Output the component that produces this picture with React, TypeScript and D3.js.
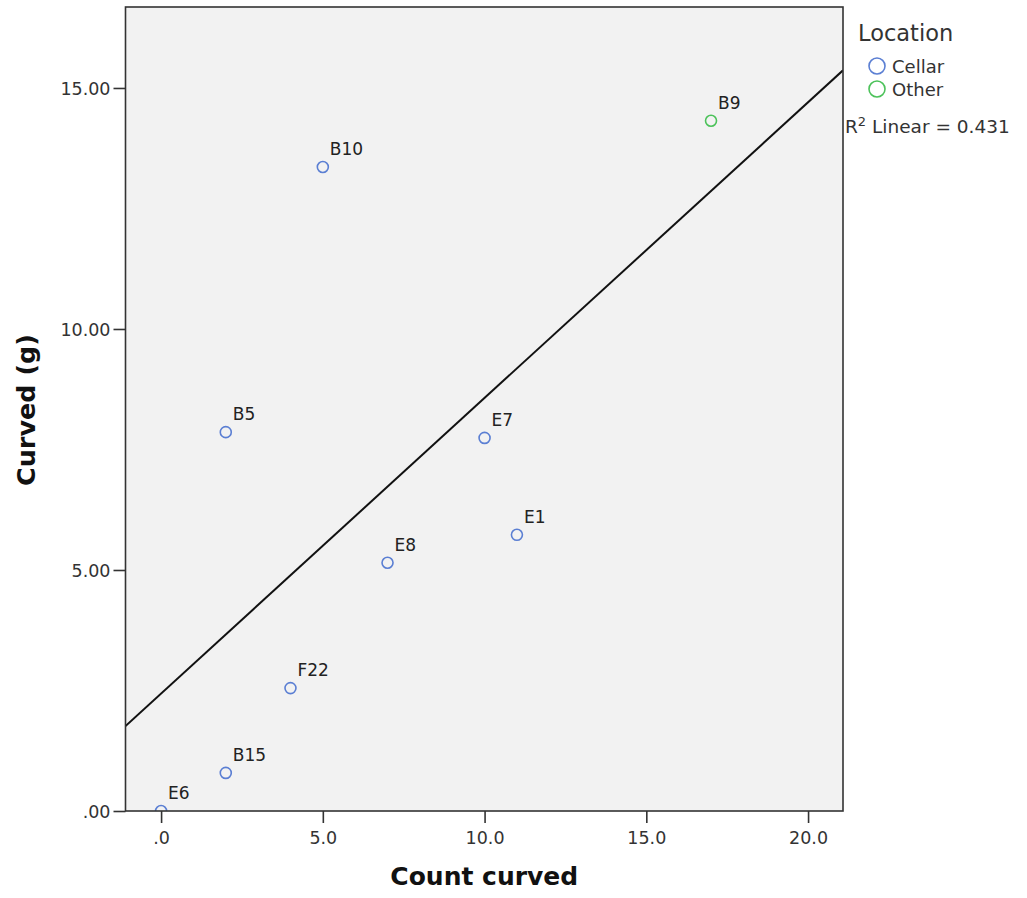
import React, { useEffect, useRef } from 'react';
import * as d3 from 'd3';

const labels = ['E6', 'B15', 'F22', 'E8', 'B5', 'E7', 'E1', 'B10', 'B9'];
const counts = [0, 2, 4, 7, 2, 10, 11, 5, 17];
const grams = [0, 0.79, 2.55, 5.15, 7.86, 7.74, 5.73, 13.36, 14.32];
const locations = ['Cellar', 'Cellar', 'Cellar', 'Cellar', 'Cellar', 'Cellar', 'Cellar', 'Cellar', 'Other'];
const xTicks = [0, 5, 10, 15, 20];
const yTicks = [0, 5, 10, 15];
const legendItems = ['Cellar', 'Other'];
const rSquared = '0.431';

const colors: Record<string, string> = { Cellar: '#5b7fd3', Other: '#4cc25a' };
const font = 'DejaVu Sans, sans-serif';

export default function App() {
  const ref = useRef<SVGSVGElement>(null);

  useEffect(() => {
    const svg = d3.select(ref.current);
    svg.selectAll('*').remove();

    const left = 125.5, right = 843, top = 7, bottom = 811;
    const x = d3.scaleLinear().domain([-1.1, 21.08]).range([left, right]);
    const y = d3.scaleLinear().domain([0, 16.68]).range([bottom, top]);

    const data = labels.map((name, i) => ({ name, cx: counts[i], cy: grams[i], loc: locations[i] }));

    svg.append('defs').append('clipPath').attr('id', 'plotclip')
      .append('rect').attr('x', left).attr('y', top).attr('width', right - left).attr('height', bottom - top);

    svg.append('rect')
      .attr('x', left).attr('y', top).attr('width', right - left).attr('height', bottom - top)
      .attr('fill', '#f2f2f2');

    // least squares fit line
    const mx = d3.mean(counts)!;
    const my = d3.mean(grams)!;
    const sxy = d3.sum(counts, (v, i) => (v - mx) * (grams[i] - my));
    const sxx = d3.sum(counts, (v) => (v - mx) * (v - mx));
    const slope = sxy / sxx;
    const icpt = my - slope * mx;
    const [x0, x1] = x.domain();
    svg.append('line')
      .attr('clip-path', 'url(#plotclip)')
      .attr('x1', x(x0)).attr('y1', y(icpt + slope * x0))
      .attr('x2', x(x1)).attr('y2', y(icpt + slope * x1))
      .attr('stroke', '#111').attr('stroke-width', 2);

    const pts = svg.append('g').attr('clip-path', 'url(#plotclip)');
    pts.selectAll('circle').data(data).enter().append('circle')
      .attr('cx', (d) => x(d.cx)).attr('cy', (d) => y(d.cy)).attr('r', 5.5)
      .attr('fill', 'none').attr('stroke', (d) => colors[d.loc]).attr('stroke-width', 1.6);
    pts.selectAll('text').data(data).enter().append('text')
      .attr('x', (d) => x(d.cx) + 7).attr('y', (d) => y(d.cy) - 12)
      .attr('font-family', font).attr('font-size', 17).attr('fill', '#222')
      .text((d) => d.name);

    svg.append('rect')
      .attr('x', left).attr('y', top).attr('width', right - left).attr('height', bottom - top)
      .attr('fill', 'none').attr('stroke', '#333').attr('stroke-width', 1.6);

    const xa = svg.append('g').attr('transform', `translate(0,${bottom})`)
      .call(d3.axisBottom(x).tickValues(xTicks).tickSize(12).tickSizeOuter(0)
        .tickFormat((d) => (d === 0 ? '.0' : d3.format('.1f')(d as number))));
    xa.select('.domain').remove();
    xa.selectAll('line').attr('stroke', '#333').attr('stroke-width', 1.6);
    xa.selectAll('text').attr('font-family', font).attr('font-size', 17.5).attr('fill', '#333')
      .attr('dy', 0).attr('y', 33);

    const ya = svg.append('g').attr('transform', `translate(${left},0)`)
      .call(d3.axisLeft(y).tickValues(yTicks).tickSize(12).tickSizeOuter(0)
        .tickFormat((d) => (d === 0 ? '.00' : d3.format('.2f')(d as number))));
    ya.select('.domain').remove();
    ya.selectAll('line').attr('stroke', '#333').attr('stroke-width', 1.6);
    ya.selectAll('text').attr('font-family', font).attr('font-size', 17.5).attr('fill', '#333')
      .attr('x', -15).attr('dy', '0.38em');

    svg.append('text').attr('x', (left + right) / 2 + 0).attr('y', 885)
      .attr('text-anchor', 'middle').attr('font-family', font).attr('font-weight', 'bold')
      .attr('font-size', 25).attr('fill', '#111').text('Count curved');
    svg.append('text').attr('transform', `translate(35,410) rotate(-90)`)
      .attr('text-anchor', 'middle').attr('font-family', font).attr('font-weight', 'bold')
      .attr('font-size', 25.5).attr('fill', '#111').text('Curved (g)');

    // legend
    svg.append('text').attr('x', 858).attr('y', 41).attr('font-family', font)
      .attr('font-size', 22.5).attr('fill', '#333').text('Location');
    const lg = svg.selectAll('.lg').data(legendItems).enter().append('g')
      .attr('transform', (_, i) => `translate(877,${66 + i * 23})`);
    lg.append('circle').attr('r', 8).attr('fill', 'none')
      .attr('stroke', (d) => colors[d]).attr('stroke-width', 1.6);
    lg.append('text').attr('x', 15).attr('y', 6.5).attr('font-family', font)
      .attr('font-size', 18).attr('fill', '#333').text((d) => d);

    const r2 = svg.append('text').attr('x', 845).attr('y', 133).attr('font-family', font)
      .attr('font-size', 18.5).attr('fill', '#333');
    r2.append('tspan').text('R');
    r2.append('tspan').attr('font-size', 13).attr('dy', -7).text('2');
    r2.append('tspan').attr('dy', 7).text(` Linear = ${rSquared}`);
  }, []);

  return (
    <svg ref={ref} width={1027} height={898}
      style={{ position: 'absolute', left: 0, top: 0, background: '#fff' }} />
  );
}
